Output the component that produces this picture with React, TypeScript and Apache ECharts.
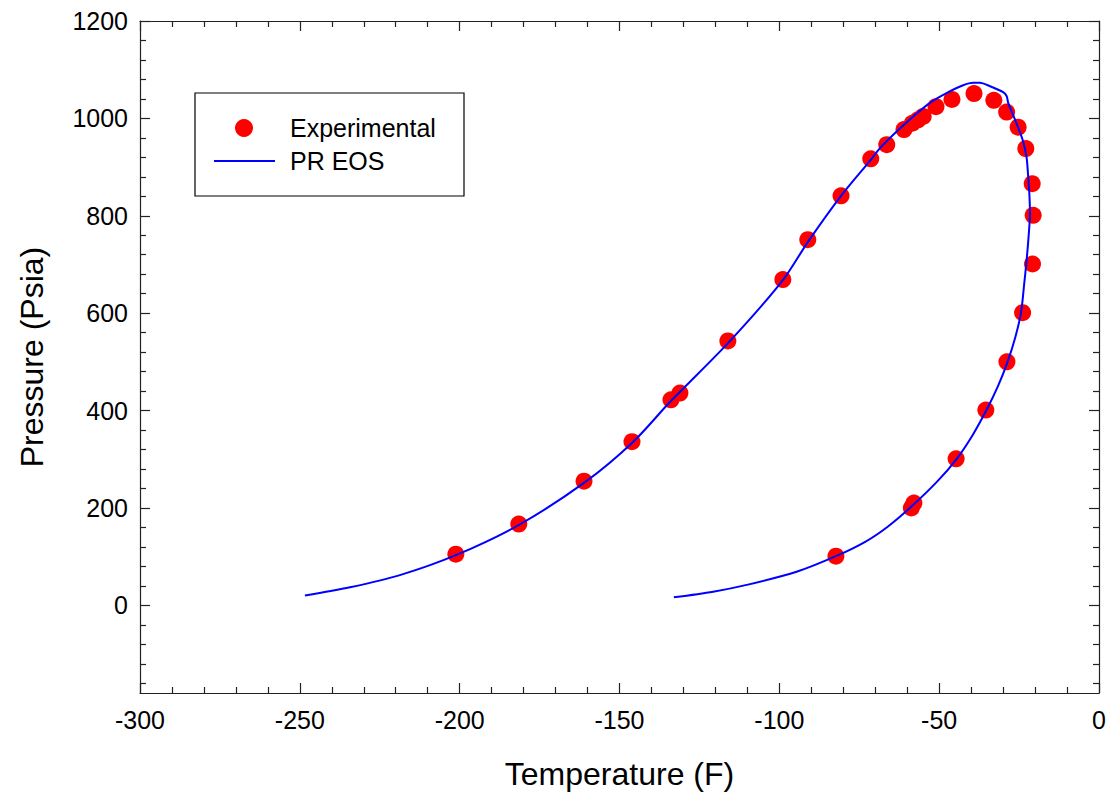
import React, { useEffect, useRef } from "react";
import * as echarts from "echarts";

const expT = [-201.2, -181.5, -161.1, -146.1, -133.9, -131.1, -116.1, -98.9, -91.1, -80.7, -71.4, -66.4, -61, -58.4, -56.6, -55, -51, -46, -39.1, -32.9, -28.9, -25.3, -22.9, -20.9, -20.6, -20.8, -23.9, -28.8, -35.4, -44.7, -57.9, -58.7, -82.3];
const expP = [105, 167, 255, 336, 422, 436, 543, 669, 751, 841, 917, 946, 977, 990, 997, 1004, 1024, 1039, 1051, 1037, 1013, 982, 938, 866, 801, 701, 601, 500, 401, 301, 210, 200, 101];

const eosT = [-248.4, -234.3, -218.7, -201.2, -181.5, -161, -146, -134, -116, -99, -91, -80.7, -71.4, -68.5, -63.3, -58.1, -52.9, -47.7, -42.5, -39.4, -37.3, -34.1, -30, -28.9, -28.4, -26.3, -23.9, -22.7, -22.2, -21.8, -21.6, -22.1, -22.7, -23.4, -24.4, -26.2, -28.6, -31.6, -35.2, -39.5, -44.5, -50.5, -58.5, -66, -73, -82.3, -94.6, -110.2, -120.7, -133];
const eosP = [20, 37, 62, 103, 165, 252, 334, 419, 539, 667, 747, 841, 915, 939, 973, 1004, 1032, 1052, 1068, 1073, 1073, 1066, 1054, 1046, 1032, 998, 956, 922, 885, 847, 806, 751, 705, 660, 601, 550, 500, 450, 401, 350, 301, 255, 204, 162, 131, 101, 69, 42, 28, 16.5];

const yMajor = [0, 200, 400, 600, 800, 1000, 1200];
const yMinor = [-160, -120, -80, -40, 40, 80, 120, 160, 240, 280, 320, 360, 440, 480, 520, 560, 640, 680, 720, 760, 840, 880, 920, 960, 1040, 1080, 1120, 1160];

const legendNames = ["Experimental", "PR EOS"];

const FONT = "'Liberation Sans', Arial, sans-serif";
const AX = "#222222";

export default function App() {
  const ref = useRef<HTMLDivElement>(null);
  useEffect(() => {
    if (!ref.current) return;
    const chart = echarts.init(ref.current, undefined, { renderer: "svg" });
    const xBase = (pos: "bottom" | "top", labels: boolean) => ({
      type: "value",
      position: pos,
      min: -300,
      max: 0,
      interval: 50,
      splitLine: { show: false },
      axisLine: { show: true, onZero: false, lineStyle: { color: AX, width: 1.2 } },
      axisTick: { show: true, inside: true, length: 10, lineStyle: { color: AX, width: 1.2 } },
      minorTick: { show: true, splitNumber: 5, length: 6, lineStyle: { color: AX, width: 1.2 } },
      minorSplitLine: { show: false },
      axisLabel: { show: labels, fontSize: 25, color: "#000", fontFamily: FONT, margin: 14 },
      name: labels ? "Temperature (F)" : "",
      nameLocation: "middle",
      nameGap: 65,
      nameTextStyle: { fontSize: 32, color: "#000", fontFamily: FONT },
    });
    const yBase = (pos: "left" | "right", major: boolean, labels: boolean) => ({
      type: "value",
      position: pos,
      min: -180,
      max: 1200,
      splitLine: { show: false },
      axisLine: { show: major, onZero: false, lineStyle: { color: AX, width: 1.2 } },
      axisTick: {
        show: true,
        inside: true,
        length: major ? 10 : 6,
        customValues: major ? yMajor : yMinor,
        lineStyle: { color: AX, width: 1.2 },
      },
      axisLabel: {
        show: labels,
        customValues: yMajor,
        formatter: (v: number) => String(v),
        fontSize: 25,
        color: "#000",
        fontFamily: FONT,
        margin: 12,
      },
      name: labels ? "Pressure (Psia)" : "",
      nameLocation: "middle",
      nameGap: 92,
      nameTextStyle: { fontSize: 32, color: "#000", fontFamily: FONT },
    });
    chart.setOption({
      animation: false,
      backgroundColor: "#fff",
      textStyle: { fontFamily: FONT },
      grid: { left: 140, top: 21, right: 12, bottom: 105, containLabel: false },
      xAxis: [xBase("bottom", true), xBase("top", false)],
      yAxis: [
        yBase("left", true, true),
        yBase("left", false, false),
        yBase("right", true, false),
        yBase("right", false, false),
      ],
      graphic: [
        {
          type: "rect",
          shape: { x: 195, y: 93, width: 269, height: 103 },
          style: { fill: "#fff", stroke: "#000", lineWidth: 1.2 },
          z: 10,
        },
        {
          type: "circle",
          shape: { cx: 244, cy: 128, r: 9 },
          style: { fill: "#ff0000" },
          z: 11,
        },
        {
          type: "line",
          shape: { x1: 214, y1: 161, x2: 275, y2: 161 },
          style: { stroke: "#0000ff", lineWidth: 2 },
          z: 11,
        },
        {
          type: "text",
          x: 290,
          y: 128,
          style: { text: legendNames[0], fontSize: 25, fontFamily: FONT, fill: "#000", verticalAlign: "middle", align: "left" },
          z: 11,
        },
        {
          type: "text",
          x: 290,
          y: 161,
          style: { text: legendNames[1], fontSize: 25, fontFamily: FONT, fill: "#000", verticalAlign: "middle", align: "left" },
          z: 11,
        },
      ],
      series: [
        {
          name: legendNames[0],
          type: "scatter",
          symbol: "circle",
          symbolSize: 17,
          itemStyle: { color: "#ff0000", opacity: 1 },
          data: expT.map((t, i) => [t, expP[i]]),
          z: 2,
        },
        {
          name: legendNames[1],
          type: "line",
          symbol: "none",
          showSymbol: false,
          smooth: 0.3,
          lineStyle: { color: "#0000ff", width: 2 },
          itemStyle: { color: "#0000ff" },
          data: eosT.map((t, i) => [t, eosP[i]]),
          z: 3,
        },
      ],
    });
    return () => chart.dispose();
  }, []);
  return <div ref={ref} style={{ width: 1111, height: 798, position: "absolute", left: 0, top: 0 }} />;
}
